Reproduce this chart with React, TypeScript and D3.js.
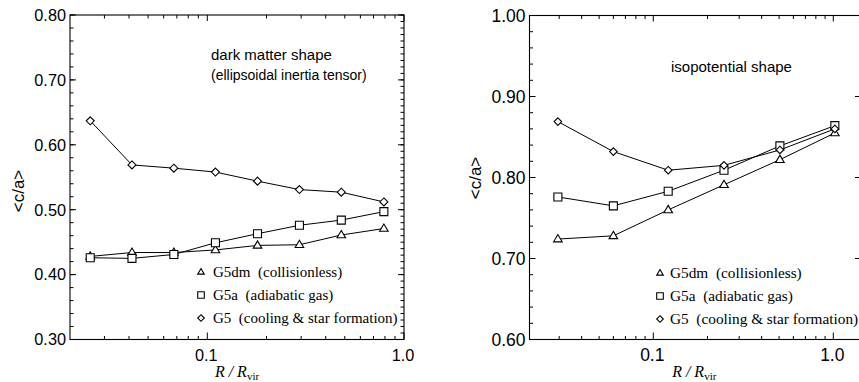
import React from 'react';
import * as d3 from 'd3';

// ---- data ----
const leftR = [0.0254, 0.0414, 0.0676, 0.110, 0.180, 0.294, 0.480, 0.790];
const leftG5dm = [0.428, 0.434, 0.434, 0.438, 0.445, 0.446, 0.461, 0.471];
const leftG5a = [0.426, 0.425, 0.431, 0.449, 0.463, 0.476, 0.484, 0.497];
const leftG5 = [0.637, 0.569, 0.564, 0.558, 0.544, 0.531, 0.527, 0.512];

const rightR = [0.0295, 0.060, 0.121, 0.247, 0.505, 1.02];
const rightG5dm = [0.724, 0.728, 0.760, 0.791, 0.822, 0.855];
const rightG5a = [0.776, 0.765, 0.783, 0.809, 0.839, 0.864];
const rightG5 = [0.869, 0.832, 0.809, 0.815, 0.834, 0.860];

const leftYTicks = [0.3, 0.4, 0.5, 0.6, 0.7, 0.8];
const rightYTicks = [0.6, 0.7, 0.8, 0.9, 1.0];
const xMajorTicks = [0.1, 1.0];
const xTickLabels = ['0.1', '1.0'];

const legendLabels = [
  { sym: 'tri', name: 'G5dm', desc: '(collisionless)' },
  { sym: 'sq', name: 'G5a', desc: '(adiabatic gas)' },
  { sym: 'dia', name: 'G5', desc: '(cooling & star formation)' },
];

const SANS = '"Liberation Sans", Arial, Helvetica, sans-serif';
const SERIF = '"Liberation Serif", "Times New Roman", Times, serif';

function symPath(kind: string, r: number) {
  if (kind === 'tri') {
    const h = r * 1.7;
    return `M0,${-h * 0.62}L${r},${h * 0.38}L${-r},${h * 0.38}Z`;
  }
  if (kind === 'sq') return `M${-r},${-r}H${r}V${r}H${-r}Z`;
  return `M0,${-r}L${r},0L0,${r}L${-r},0Z`;
}

type PanelProps = {
  xs: number[];
  series: { kind: string; vals: number[] }[];
  xRange: [number, number]; // pixel positions of 0.1 and 1.0
  frame: { l: number; r: number; t: number; b: number };
  yDomain: [number, number];
  yMajor: number[];
  yMinorStep: number;
  yMinorStepRight: number;
  showRightMinor: boolean;
  fs: number;
  yTitle: { x: number; y: number; fs: number };
  notes: { text: string; x: number; y: number; fs: number }[];
  legend: { symX: number; textX: number; ys: number[]; fs: number; r: number };
  markR: { tri: number; sq: number; dia: number };
};

function Panel(p: PanelProps) {
  const { l, r, t, b } = p.frame;
  const x = d3.scaleLog().domain([0.1, 1]).range(p.xRange);
  const y = d3.scaleLinear().domain(p.yDomain).range([b, t]);
  const line = d3
    .line<[number, number]>()
    .x((d) => x(d[0]))
    .y((d) => y(d[1]));

  // x ticks
  const xMinor: number[] = [];
  [0.01, 0.1, 1].forEach((dec) => {
    for (let k = 2; k <= 9; k++) xMinor.push(dec * k);
  });
  const xMinorIn = xMinor.filter((v) => x(v) > l + 1 && x(v) < r - 1);
  const yMinorL = d3.range(p.yDomain[0], p.yDomain[1] + 1e-9, p.yMinorStep);
  const yMinorR = d3.range(p.yDomain[0], p.yDomain[1] + 1e-9, p.yMinorStepRight);

  const majL = 6, minL = 3.5;
  return (
    <g>
      {/* frame */}
      <rect x={l} y={t} width={r - l} height={b - t} fill="none" stroke="#000" strokeWidth={1.1} />
      {/* x ticks bottom & top */}
      {xMinorIn.map((v, i) => (
        <g key={'xm' + i}>
          <line x1={x(v)} x2={x(v)} y1={b} y2={b - minL} stroke="#000" strokeWidth={1} />
          <line x1={x(v)} x2={x(v)} y1={t} y2={t + minL} stroke="#000" strokeWidth={1} />
        </g>
      ))}
      {xMajorTicks.map((v, i) => (
        <g key={'xM' + i}>
          <line x1={x(v)} x2={x(v)} y1={b} y2={b - majL - 1} stroke="#000" strokeWidth={1} />
          <line x1={x(v)} x2={x(v)} y1={t} y2={t + majL} stroke="#000" strokeWidth={1} />
          <text x={x(v) - 1} y={361} textAnchor="middle" fontFamily={SANS} fontSize={p.fs}>
            {xTickLabels[i]}
          </text>
        </g>
      ))}
      {/* y ticks */}
      {yMinorL.map((v, i) => (
        <line key={'ylm' + i} x1={l} x2={l + minL} y1={y(v)} y2={y(v)} stroke="#000" strokeWidth={1} />
      ))}
      {p.showRightMinor &&
        yMinorR.map((v, i) => (
          <line key={'yrm' + i} x1={r} x2={r - minL} y1={y(v)} y2={y(v)} stroke="#000" strokeWidth={1} />
        ))}
      {p.yMajor.map((v, i) => (
        <g key={'yM' + i}>
          <line x1={l} x2={l + majL} y1={y(v)} y2={y(v)} stroke="#000" strokeWidth={1} />
          <line x1={r} x2={r - majL} y1={y(v)} y2={y(v)} stroke="#000" strokeWidth={1} />
          <text x={l - 4} y={y(v)} dy="0.36em" textAnchor="end" fontFamily={SANS} fontSize={p.fs}>
            {v.toFixed(2)}
          </text>
        </g>
      ))}
      {/* titles */}
      <text
        transform={`translate(${p.yTitle.x},${p.yTitle.y}) rotate(-90)`}
        textAnchor="middle"
        dy="0.35em"
        fontFamily={SANS}
        fontSize={p.yTitle.fs}
      >
        {'<c/a>'}
      </text>
      <text x={(l + Math.min(r, 859)) / 2} y={377} textAnchor="middle" fontFamily={SERIF} fontSize={16}>
        <tspan fontStyle="italic">R / R</tspan>
        <tspan fontSize={11} dy={3}>vir</tspan>
      </text>
      {p.notes.map((n, i) => (
        <text key={'n' + i} x={n.x} y={n.y} fontFamily={SANS} fontSize={n.fs}>
          {n.text}
        </text>
      ))}
      {/* series */}
      {p.series.map((s, si) => {
        const pts = p.xs.map((xv, i) => [xv, s.vals[i]] as [number, number]);
        const rr = (p.markR as any)[s.kind];
        return (
          <g key={'s' + si}>
            <path d={line(pts) || ''} fill="none" stroke="#000" strokeWidth={1} />
            {pts.map((d, i) => (
              <path
                key={i}
                d={symPath(s.kind, rr)}
                transform={`translate(${x(d[0])},${y(d[1])})`}
                fill="#fff"
                stroke="#000"
                strokeWidth={1.1}
              />
            ))}
          </g>
        );
      })}
      {/* legend */}
      {legendLabels.map((lg, i) => (
        <g key={'lg' + i}>
          <path
            d={symPath(lg.sym, p.legend.r)}
            transform={`translate(${p.legend.symX},${p.legend.ys[i] - 5})`}
            fill="#fff"
            stroke="#000"
            strokeWidth={1.1}
          />
          <text x={p.legend.textX} y={p.legend.ys[i]} fontFamily={SERIF} fontSize={p.legend.fs} xmlSpace="preserve">
            {lg.name + '  ' + lg.desc}
          </text>
        </g>
      ))}
    </g>
  );
}

export default function App() {
  return (
    <svg
      width={859}
      height={382}
      style={{ position: 'absolute', left: 0, top: 0, background: '#fff' }}
    >
      <rect width={859} height={382} fill="#fff" />
      <Panel
        xs={leftR}
        series={[
          { kind: 'tri', vals: leftG5dm },
          { kind: 'sq', vals: leftG5a },
          { kind: 'dia', vals: leftG5 },
        ]}
        xRange={[207.3, 404]}
        frame={{ l: 70, r: 404, t: 15, b: 339.5 }}
        yDomain={[0.3, 0.8]}
        yMajor={leftYTicks}
        yMinorStep={0.02}
        yMinorStepRight={0.01}
        showRightMinor={true}
        fs={16.3}
        yTitle={{ x: 18, y: 191, fs: 17 }}
        notes={[
          { text: 'dark matter shape', x: 211, y: 60, fs: 15 },
          { text: '(ellipsoidal inertia tensor)', x: 211, y: 80, fs: 14 },
        ]}
        legend={{ symX: 201, textX: 213, ys: [277, 300, 323], fs: 15, r: 3.3 }}
        markR={{ tri: 4.3, sq: 4, dia: 4 }}
      />
      <Panel
        xs={rightR}
        series={[
          { kind: 'tri', vals: rightG5dm },
          { kind: 'sq', vals: rightG5a },
          { kind: 'dia', vals: rightG5 },
        ]}
        xRange={[653.3, 833.3]}
        frame={{ l: 529.5, r: 861, t: 15.5, b: 339.5 }}
        yDomain={[0.6, 1.0]}
        yMajor={rightYTicks}
        yMinorStep={0.02}
        yMinorStepRight={0.02}
        showRightMinor={false}
        fs={17.5}
        yTitle={{ x: 475, y: 178, fs: 17 }}
        notes={[{ text: 'isopotential shape', x: 671, y: 72, fs: 15 }]}
        legend={{ symX: 660, textX: 670, ys: [278, 301, 324], fs: 15.3, r: 3.3 }}
        markR={{ tri: 4.3, sq: 4, dia: 3.8 }}
      />
    </svg>
  );
}
